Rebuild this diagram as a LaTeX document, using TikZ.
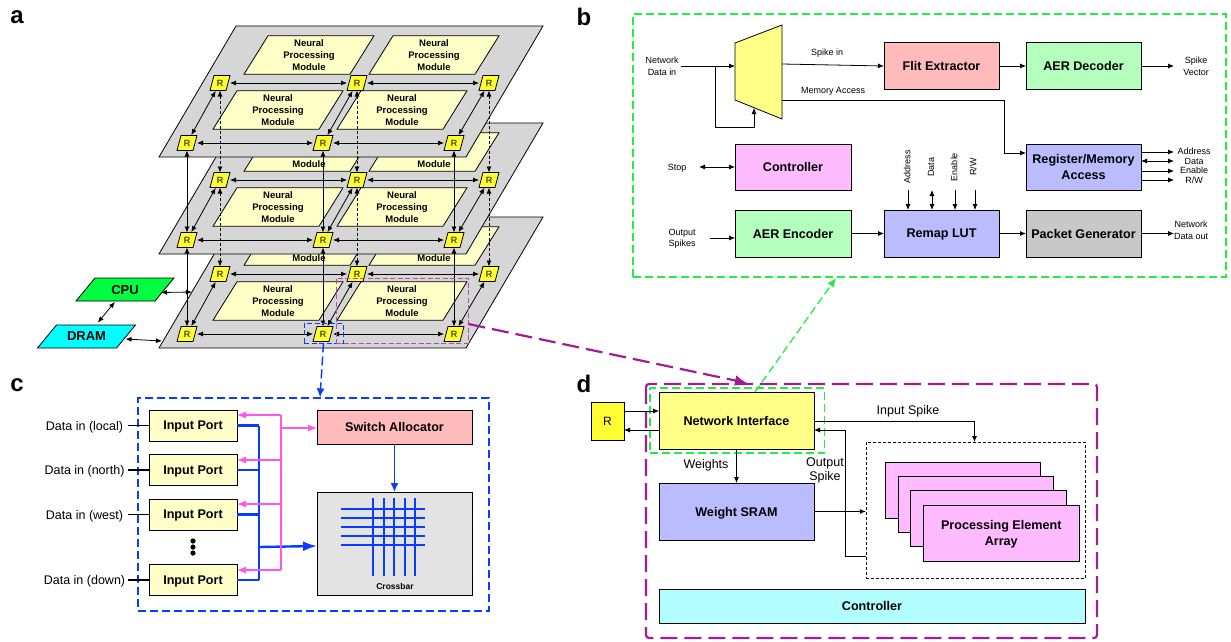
\documentclass[tikz,border=0pt]{standalone}
\usepackage{fontspec}
\setmainfont{Liberation Sans}
\usetikzlibrary{arrows.meta}

\definecolor{planegray}{RGB}{214,214,214}
\definecolor{paleyellow}{RGB}{255,255,200}
\definecolor{routeryellow}{RGB}{255,255,51}
\definecolor{muxyellow}{RGB}{255,255,136}
\definecolor{palered}{RGB}{255,187,187}
\definecolor{palegreen}{RGB}{179,255,187}
\definecolor{palepink}{RGB}{255,187,255}
\definecolor{paleblue}{RGB}{187,187,255}
\definecolor{palecyan}{RGB}{179,255,255}
\definecolor{packetgray}{RGB}{200,200,200}
\definecolor{barboxgray}{RGB}{227,227,227}
\definecolor{cpugreen}{RGB}{0,255,64}
\definecolor{dramcyan}{RGB}{0,255,255}
\definecolor{linkblue}{RGB}{10,60,255}
\definecolor{linkpink}{RGB}{255,85,238}
\definecolor{linkgreen}{RGB}{34,238,68}
\definecolor{linkpurple}{RGB}{160,30,145}

\tikzset{
  npmtext/.style={align=center, font=\bfseries\fontsize{9.5}{12}\selectfont},
  routertext/.style={font=\fontsize{9}{10}\selectfont},
  hosttext/.style={font=\bfseries\fontsize{13}{15}\selectfont},
  block/.style 2 args={draw, line width=0.8pt, inner sep=0pt, outer sep=0pt, minimum width=#1, minimum height=#2,
    align=center, text depth=0pt, font=\bfseries\fontsize{12.6}{15.5}\selectfont},
  small/.style={inner sep=0pt, align=center, text depth=0pt, font=\fontsize{9}{11.5}\selectfont},
  medium/.style={inner sep=0pt, align=center, text depth=0pt, font=\fontsize{12.5}{14.5}\selectfont},
  panel/.style={inner sep=0pt, font=\bfseries\fontsize{24}{24}\selectfont},
  link/.style={line width=0.8pt},
  diag/.style={line width=0.8pt, shorten <=9pt, shorten >=9pt},
  busline/.style={linkblue, line width=2.2pt},
  pinkline/.style={linkpink, line width=1.2pt},
  gridline/.style={linkblue, line width=1.2pt},
  bluedash/.style={linkblue, line width=1.5pt, dash pattern=on 9pt off 4pt},
  greendash/.style={linkgreen, line width=1.3pt, dash pattern=on 8pt off 4pt},
  purpledash/.style={linkpurple, line width=2.2pt, dash pattern=on 17pt off 7pt},
  zoomdash/.style={line width=0.9pt, dash pattern=on 5pt off 2.5pt, inner sep=0pt},
}
% fill, name, position, half width, half height, slant, text style, text
\newcommand{\slantbox}[8]{
  \draw[fill=#1, line width=0.8pt] ([shift={(-#4+#6,-#5)}]#3) -- ([shift={(#4,-#5)}]#3)
     -- ([shift={(#4-#6,#5)}]#3) -- ([shift={(-#4,#5)}]#3) -- cycle;
  \draw node[#7, inner sep=0pt, outer sep=0pt, text depth=0pt, minimum width=2*#4, minimum height=2*#5] (#2) at (#3) {#8};
}
\newcommand{\npmnode}[2]{\slantbox{paleyellow}{#1}{#2}{65}{19.25}{24}{npmtext}{Neural\\Processing\\Module}}
% lower layers: the plane above hides the first two lines
\newcommand{\backnpm}[2]{\ifnum\lay=1 \npmnode{#1}{#2}\else
  \slantbox{paleyellow}{#1}{#2}{65}{19.25}{24}{npmtext}{\phantom{Neural}\\\phantom{Processing}\\Module}\fi}
\newcommand{\routernode}[2]{\slantbox{routeryellow}{#1}{#2}{10}{7.5}{4}{routertext}{R}}

\begin{document}
\begin{tikzpicture}[x=1pt, y=-1pt, >={Latex[length=6pt,width=5pt]}]
      \useasboundingbox (0,0) rectangle (1231,642);

      \draw node[panel] (labela) at (17,17) {a};
      \draw node[panel] (labelb) at (584,17) {b};
      \draw node[panel] (labelc) at (17,385) {c};
      \draw node[panel] (labeld) at (584,384) {d};

      % three layers, lowest first
      \foreach \lay/\dy in {3/191,2/97,1/0} {
        \slantbox{planegray}{plane\lay}{351,91.5+\dy}{192}{65.5}{77}{}{}
        \backnpm{npm\lay a}{309,55+\dy}
        \backnpm{npm\lay b}{434,55+\dy}
        \npmnode{npm\lay c}{278,110+\dy}
        \npmnode{npm\lay d}{402,110+\dy}
        \routernode{r\lay a}{220,83+\dy}
        \routernode{r\lay b}{357,83+\dy}
        \routernode{r\lay c}{489,83+\dy}
        \routernode{r\lay d}{187,143+\dy}
        \routernode{r\lay e}{323,143+\dy}
        \routernode{r\lay f}{454,143+\dy}
        \draw[<->, link] (r\lay a.east) -- (r\lay b.west);
        \draw[<->, link] (r\lay b.east) -- (r\lay c.west);
        \draw[<->, link] (r\lay d.east) -- (r\lay e.west);
        \draw[<->, link] (r\lay e.east) -- (r\lay f.west);
        \draw[<->, diag] (r\lay a.center) -- (r\lay d.center);
        \draw[<->, diag] (r\lay b.center) -- (r\lay e.center);
        \draw[<->, diag] (r\lay c.center) -- (r\lay f.center);
      }
      \foreach \lay/\low in {1/2,2/3} {
        \foreach \col in {a,b,c}
          \draw[<->, link, densely dashed] (r\lay\col.south) -- (r\low\col.north);
        \foreach \col in {d,e,f}
          \draw[<->, link] (r\lay\col.south) -- (r\low\col.north);
      }

      \slantbox{cpugreen}{cpu}{125,289.5}{49}{11.5}{19}{hosttext}{CPU}
      \slantbox{dramcyan}{dram}{86.5,336.5}{49}{11.5}{19}{hosttext}{DRAM}
      \coordinate (cpuport) at (192,292);
      \coordinate (dramport) at (162,341);
      \draw[<->, link, shorten <=16pt, shorten >=18pt] (cpu.center) -- (dram.center);
      \draw[<->, link] ([shift={(-13,3)}]cpu.east) -- (cpuport);
      \draw[<->, link] ([shift={(-10,2.5)}]dram.east) -- (dramport);

      \draw node[draw=linkblue, zoomdash, minimum width=39, minimum height=20] (routerbox) at (323.5,333) {};
      \draw node[draw=linkpurple!80, zoomdash, minimum width=132, minimum height=65] (modulebox) at (402,310.5) {};

      % panel b
      \draw node[draw=linkgreen, line width=1.3pt, dash pattern=on 8pt off 4pt, minimum width=593, minimum height=263, inner sep=0pt] (panelb) at (929.5,145.5) {};
      \draw[fill=muxyellow, line width=0.8pt] (735,43) -- (782,25) -- (782,119) -- (735,100) -- cycle;
      \coordinate (muxin) at (735,66);
      \coordinate (muxsel) at (754,108);
      \coordinate (muxspike) at (782,64);
      \coordinate (muxmem) at (782,100);
      \draw node[block={115}{47}, fill=palered] (flit) at (941.5,66) {Flit Extractor};
      \draw node[block={115}{47}, fill=palegreen] (decoder) at (1083.5,66) {AER Decoder};
      \draw node[block={116}{46}, fill=palepink] (control) at (793,167) {Controller};
      \draw node[block={115}{46}, fill=paleblue] (regmem) at (1083.5,167) {Register/Memory\\Access};
      \draw node[block={116}{47}, fill=palegreen] (encoder) at (793,233.5) {AER Encoder};
      \draw node[block={115}{47}, fill=paleblue] (remap) at (941.5,233.5) {Remap LUT};
      \draw node[block={115}{47}, fill=packetgray] (packet) at (1083.5,233.5) {Packet Generator};

      \draw node[small] (netin) at (662,66) {Network\\Data in};
      \draw node[small] (spikein) at (827,52) {Spike in};
      \draw node[small] (memaccess) at (833,90) {Memory Access};
      \draw node[small] (spikevec) at (1196,66) {Spike\\Vector};
      \draw node[small] (stop) at (677,167) {Stop};
      \draw node[small] (outspikes) at (682,238) {Output\\Spikes};
      \draw node[small] (netout) at (1191,230) {Network\\Data out};
      \draw node[small] (addrout) at (1194,151) {Address};
      \draw node[small] (dataout) at (1194,161) {Data};
      \draw node[small] (enout) at (1194,170) {Enable};
      \draw node[small] (rwout) at (1194,180) {R/W};
      \draw node[small, rotate=90] (addrin) at (907,167) {Address};
      \draw node[small, rotate=90] (datain) at (931,167) {Data};
      \draw node[small, rotate=90] (enin) at (954,167) {Enable};
      \draw node[small, rotate=90] (rwin) at (973,167) {R/W};

      \draw[->, link] ([xshift=2pt]netin.east) -- (muxin);
      \draw[->, link] (715,66) -- (715,127) -- (muxsel |- 0,127) -- (muxsel);
      \draw[->, link] (muxspike) -- (flit.west);
      \draw[->, link] (flit) -- (decoder);
      \draw[->, link] (decoder) -- (1174,66);
      \draw[->, link] (muxmem) -- (1004,100) -- (1004,153) -- (regmem.west |- 0,153);
      \draw[->, link] (regmem.east |- 0,152) -- (1174,152);
      \draw[<->, link] (regmem.east |- 0,161) -- (1174,161);
      \draw[->, link] (regmem.east |- 0,171) -- (1174,171);
      \draw[->, link] (regmem.east |- 0,180) -- (1174,180);
      \draw[<->, link] (699,167) -- (control);
      \draw[->, link] (710,238) -- (encoder.west |- 0,238);
      \draw[->, link] (encoder) -- (remap);
      \draw[->, link] (remap) -- (packet);
      \draw[->, link] (packet) -- (1174,233.5);
      \draw[->, link] (908,190) -- (908,210);
      \draw[<->, link] (932,190) -- (932,210);
      \draw[->, link] (955,190) -- (955,210);
      \draw[->, link] (975,190) -- (975,210);

      % panel c
      \draw node[draw=linkblue, line width=1.3pt, dash pattern=on 8pt off 4pt, minimum width=351, minimum height=213, inner sep=0pt] (panelc) at (313.5,504.5) {};
      \foreach \p/\yy/\dir in {1/425.5/local,2/470/north,3/514.5/west,4/580/down} {
        \draw node[block={88}{31}, fill=paleyellow] (port\p) at (193,\yy) {Input Port};
        \draw node[medium] (datain\p) at (84.5,\yy) {Data in (\dir)};
        \draw[line width=1.5pt] (128,\yy) -- (port\p.west);
        \draw[busline] (port\p.east) -- (259,\yy);
      }
      \draw[busline] (259,425.5) -- (259,580);
      \foreach \yy in {541,547,553}
        \fill (193,\yy) circle [radius=2.6pt];
      \draw node[block={155}{34}, fill=palered] (alloc) at (394.5,427) {Switch Allocator};
      \draw node[block={155}{103}, fill=barboxgray] (crossbar) at (394.5,543.5) {};
      \draw node[inner sep=0pt, font=\bfseries\fontsize{8.5}{10}\selectfont] (barlabel) at (395,586) {Crossbar};
      \foreach \yy in {509,518,527,536,545}
        \draw[gridline] (341,\yy) -- (425,\yy);
      \foreach \xx in {373,384,394,405,415}
        \draw[gridline] (\xx,498) -- (\xx,576);
      \draw[->, >={Latex[length=9pt,width=8pt]}, linkblue, line width=1.4pt] (alloc) -- (crossbar);
      \draw[->, >={Latex[length=14pt,width=10pt]}, linkblue, line width=2.4pt] (259,547) -- (crossbar.west |- 0,546);
      \draw[pinkline] (281,415) -- (281,570);
      \foreach \p/\yy in {1/415,2/460,3/504,4/570}
        \draw[->, >={Latex[length=9pt,width=7pt]}, pinkline] (281,\yy) -- (port\p.east |- 0,\yy);
      \draw[->, >={Latex[length=9pt,width=7pt]}, pinkline] (281,428) -- (alloc.west |- 0,428);

      % panel d
      \draw[purpledash, rounded corners=3pt] (646,384) rectangle (1097,638);
      \draw node[block={33}{38}, fill=routeryellow, font=\fontsize{12}{14}\selectfont] (routerd) at (607.5,421) {R};
      \draw node[block={155}{57}, fill=muxyellow] (netif) at (736.5,420.5) {Network Interface};
      \draw node[block={155}{57}, fill=paleblue] (sram) at (736.5,511.5) {Weight SRAM};
      \draw node[block={426}{34}, fill=palecyan] (controld) at (872,606) {Controller};
      \draw node[draw, densely dashed, inner sep=0pt, minimum width=219.5, minimum height=136] (pearray) at (975.75,510) {};
      \draw node[block={155}{56}, fill=palepink] (pea) at (962.5,490) {};
      \draw node[block={155}{56}, fill=palepink] (peb) at (975.5,504) {};
      \draw node[block={156}{56}, fill=palepink] (pec) at (988,518) {};
      \draw node[block={155.5}{56}, fill=palepink] (ped) at (1001.25,533) {Processing Element\\Array};
      \draw node[draw=linkgreen, line width=1.3pt, dash pattern=on 8pt off 4pt, inner sep=0pt, minimum width=174.5, minimum height=65] (greenbox) at (737.25,420.5) {};

      \draw node[medium] (weights) at (706,464) {Weights};
      \draw node[medium] (outspike) at (825,469) {Output\\Spike};
      \draw node[medium] (inspike) at (908,410) {Input Spike};

      \draw[->, link] (routerd.east |- 0,411) -- (netif.west |- 0,411);
      \draw[->, link] (netif.west |- 0,430) -- (routerd.east |- 0,430);
      \draw[->, link] (netif) -- (sram);
      \draw[->, link] (netif.east |- 0,421) -- (974.5,421) -- (974.5,442);
      \draw[->, link] (pearray.west |- 0,556) -- (845,556) -- (845,430) -- (netif.east |- 0,430);
      \draw[->, link] (sram.east) -- (pearray.west |- sram.east);

      % links between panels
      \draw[->, >={Latex[length=9pt,width=8pt]}, bluedash] (routerbox.south) -- (panelc.north -| 320,0);
      \draw[->, >={Latex[length=9pt,width=8pt]}, greendash] (755,392) -- (836,278);
      \draw[->, >={Latex[length=12pt,width=11pt]}, purpledash] (modulebox.east |- 0,324) -- (747,383);
\end{tikzpicture}
\end{document}
